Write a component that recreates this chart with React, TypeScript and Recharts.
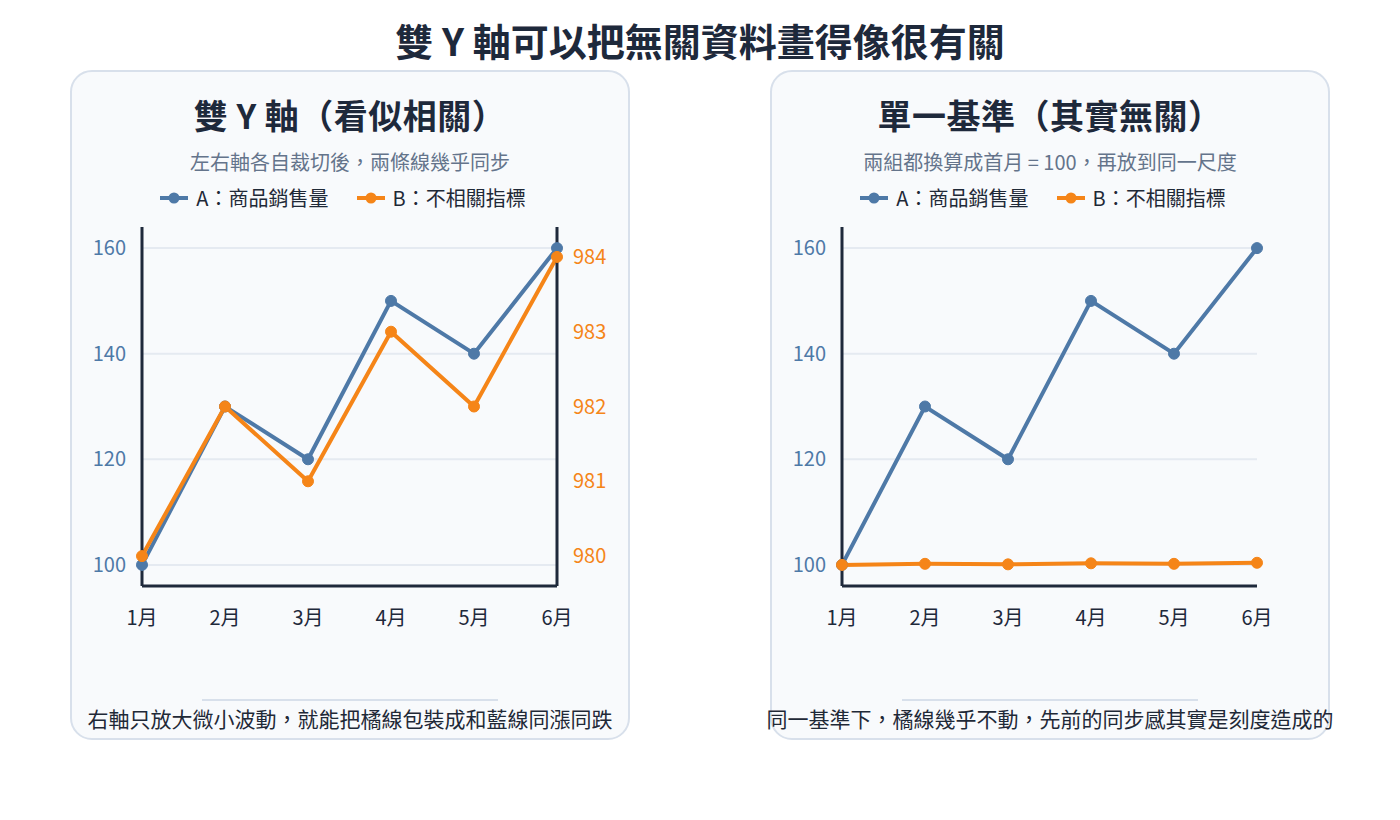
import { LineChart, Line, XAxis, YAxis, ReferenceLine } from 'recharts';

const months = ['1月', '2月', '3月', '4月', '5月', '6月'];
const salesA = [100, 130, 120, 150, 140, 160];
const metricB = [980, 982, 981, 983, 982, 984];
const indexB = [100, 100.2, 100.1, 100.3, 100.2, 100.4];

const leftTicks = [100, 120, 140, 160];
const rightTicks = [980, 981, 982, 983, 984];

const BLUE = '#4e79a7';
const ORANGE = '#f58518';
const DARK = '#1e293b';
const GRID = '#e5eaf1';
const FONT = '"Noto Sans CJK TC", "Noto Sans", sans-serif';

const dualData = months.map((m, i) => ({ month: m, A: salesA[i], B: metricB[i] }));
const indexData = months.map((m, i) => ({ month: m, A: salesA[i], B: indexB[i] }));

function LegendRow() {
  const item = (color: string, label: string) => (
    <div style={{ display: 'flex', alignItems: 'center', gap: 8 }}>
      <svg width={28} height={14}>
        <line x1={0} y1={7} x2={28} y2={7} stroke={color} strokeWidth={4} strokeLinecap="round" />
        <circle cx={14} cy={7} r={5.5} fill={color} />
      </svg>
      <span>{label}</span>
    </div>
  );
  return (
    <div
      style={{
        position: 'absolute',
        top: 111,
        left: -7,
        width: '100%',
        display: 'flex',
        justifyContent: 'center',
        gap: 28,
        fontSize: 20,
        lineHeight: '30px',
        color: '#1f2937',
      }}
    >
      {item(BLUE, 'A：商品銷售量')}
      {item(ORANGE, 'B：不相關指標')}
    </div>
  );
}

interface PanelProps {
  left: number;
  title: string;
  subtitle: string;
  note: string;
  children: React.ReactNode;
}

function Panel({ left, title, subtitle, note, children }: PanelProps) {
  return (
    <div
      style={{
        position: 'absolute',
        left,
        top: 62,
        width: 560,
        height: 670,
        boxSizing: 'border-box',
        border: '2px solid #d8e0eb',
        borderRadius: 22,
        background: '#f8fafc',
      }}
    >
      <div
        style={{
          position: 'absolute',
          top: 26,
          width: '100%',
          textAlign: 'center',
          fontSize: 34,
          lineHeight: '34px',
          fontWeight: 700,
          letterSpacing: 0.5,
          color: DARK,
        }}
      >
        {title}
      </div>
      <div
        style={{
          position: 'absolute',
          top: 80,
          width: '100%',
          textAlign: 'center',
          fontSize: 20,
          lineHeight: '20px',
          color: '#64748b',
        }}
      >
        {subtitle}
      </div>
      <LegendRow />
      <div style={{ position: 'absolute', top: 108, left: 0 }}>{children}</div>
      <div
        style={{
          position: 'absolute',
          top: 627,
          left: 130,
          width: 296,
          height: 2,
          background: '#d8e0eb',
        }}
      />
      <div
        style={{
          position: 'absolute',
          top: 634,
          left: '50%',
          transform: 'translateX(-50%)',
          whiteSpace: 'nowrap',
          fontSize: 21,
          lineHeight: '24px',
          color: '#1f2937',
        }}
      >
        {note}
      </div>
    </div>
  );
}

const tickLeft = { fill: BLUE, fontSize: 20 };
const tickX = { fill: DARK, fontSize: 20 };
const lineDot = (c: string) => ({ r: 5.5, fill: c, stroke: c, strokeWidth: 1 });

function gridLines() {
  return leftTicks.map((t) => (
    <ReferenceLine key={t} yAxisId="left" y={t} stroke={GRID} strokeWidth={2} />
  ));
}

function DualAxisChart() {
  return (
    <LineChart width={556} height={470} data={dualData} margin={{ top: 47, right: 0, bottom: 34, left: 0 }}>
      <XAxis
        dataKey="month"
        tick={tickX}
        tickLine={false}
        tickMargin={19}
        height={30}
        axisLine={{ stroke: DARK, strokeWidth: 3 }}
      />
      <YAxis
        yAxisId="left"
        width={70}
        domain={[96, 164]}
        ticks={leftTicks}
        tick={tickLeft}
        tickLine={false}
        tickMargin={10}
        axisLine={{ stroke: DARK, strokeWidth: 3 }}
      />
      <YAxis
        yAxisId="right"
        orientation="right"
        width={71}
        domain={[979.6, 984.4]}
        ticks={rightTicks}
        tick={{ fill: ORANGE, fontSize: 20 }}
        tickLine={false}
        tickMargin={10}
        axisLine={{ stroke: DARK, strokeWidth: 3 }}
      />
      {gridLines()}
      <Line
        yAxisId="left"
        dataKey="A"
        stroke={BLUE}
        strokeWidth={4}
        dot={lineDot(BLUE)}
        isAnimationActive={false}
      />
      <Line
        yAxisId="right"
        dataKey="B"
        stroke={ORANGE}
        strokeWidth={4}
        dot={lineDot(ORANGE)}
        isAnimationActive={false}
      />
    </LineChart>
  );
}

function IndexChart() {
  return (
    <LineChart width={556} height={470} data={indexData} margin={{ top: 47, right: 71, bottom: 34, left: 0 }}>
      <XAxis
        dataKey="month"
        tick={tickX}
        tickLine={false}
        tickMargin={19}
        height={30}
        axisLine={{ stroke: DARK, strokeWidth: 3 }}
      />
      <YAxis
        yAxisId="left"
        width={70}
        domain={[96, 164]}
        ticks={leftTicks}
        tick={tickLeft}
        tickLine={false}
        tickMargin={10}
        axisLine={{ stroke: DARK, strokeWidth: 3 }}
      />
      {gridLines()}
      <Line
        yAxisId="left"
        dataKey="A"
        stroke={BLUE}
        strokeWidth={4}
        dot={lineDot(BLUE)}
        isAnimationActive={false}
      />
      <Line
        yAxisId="left"
        dataKey="B"
        stroke={ORANGE}
        strokeWidth={4}
        dot={lineDot(ORANGE)}
        isAnimationActive={false}
      />
    </LineChart>
  );
}

export default function App() {
  return (
    <div style={{ position: 'relative', width: 1384, height: 804, fontFamily: FONT }}>
      <div
        style={{
          position: 'absolute',
          top: 13,
          width: '100%',
          textAlign: 'center',
          fontSize: 38,
          lineHeight: '38px',
          fontWeight: 700,
          color: DARK,
        }}
      >
        雙 Y 軸可以把無關資料畫得像很有關
      </div>
      <Panel
        left={62}
        title="雙 Y 軸（看似相關）"
        subtitle="左右軸各自裁切後，兩條線幾乎同步"
        note="右軸只放大微小波動，就能把橘線包裝成和藍線同漲同跌"
      >
        <DualAxisChart />
      </Panel>
      <Panel
        left={762}
        title="單一基準（其實無關）"
        subtitle="兩組都換算成首月 = 100，再放到同一尺度"
        note="同一基準下，橘線幾乎不動，先前的同步感其實是刻度造成的"
      >
        <IndexChart />
      </Panel>
    </div>
  );
}
